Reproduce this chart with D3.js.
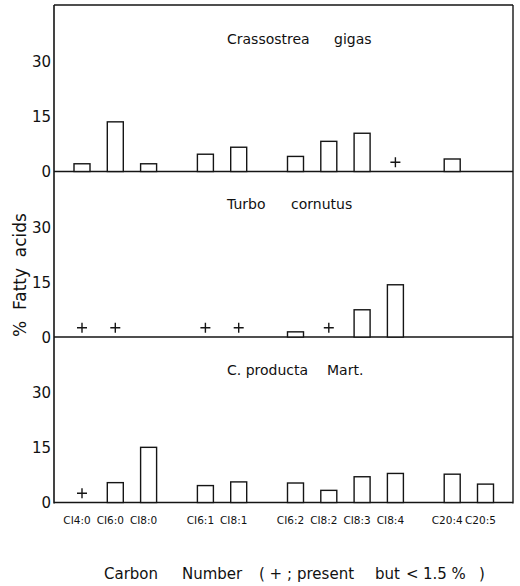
<!DOCTYPE html>
<html><head><meta charset="utf-8">
<script src="https://cdn.jsdelivr.net/npm/d3@7"></script>
<style>
html,body{margin:0;padding:0;background:#fff;}
svg{display:block;}
text{font-family:"DejaVu Sans","Liberation Sans",sans-serif;fill:#111;}
</style></head>
<body>
<svg id="chart" width="520" height="586"></svg>
<script>
// ---- data ----
const categories = ["C14:0","C16:0","C18:0","C16:1","C18:1","C16:2","C18:2","C18:3","C18:4","C20:4","C20:5"];
const categoryLabels = ["CI4:0","CI6:0","CI8:0","CI6:1","CI8:1","CI6:2","CI8:2","CI8:3","CI8:4","C20:4","C20:5"];
const categoryGroup = [0,0,0,1,1,2,2,2,2,3,3];
const species = ["Crassostrea gigas","Turbo cornutus","C. producta Mart."];
const titleParts = [["Crassostrea","gigas"],["Turbo","cornutus"],["C. producta","Mart."]];
// % fatty acids (null = not detected)
const crassostreaValues = [2.1,13.5,2.1,4.7,6.6,4.1,8.2,10.4,null,3.4,null];
const turboValues       = [null,null,null,null,null,1.4,null,7.4,14.2,null,null];
const productaValues    = [null,5.4,15.0,4.6,5.6,5.3,3.3,7.0,7.9,7.7,5.0];
// "+" : present but < 1.5 %
const crassostreaTrace = ["C18:4"];
const turboTrace       = ["C14:0","C16:0","C16:1","C18:1","C18:2"];
const productaTrace    = ["C14:0"];
const yTicks = [0,15,30];
const xTitleParts = ["Carbon","Number","( + ;","present","but","<","1.5 %",")"];
const yTitle = "%  Fatty  acids";

const seriesValues = [crassostreaValues, turboValues, productaValues];
const seriesTrace = [crassostreaTrace, turboTrace, productaTrace];

// ---- layout ----
const svg = d3.select("#chart");
const mLeft = 54, mRight = 513, mTop = 6, panelH = 165.5;
const groupGap = 23.5, barW = 16;
const xp = d3.scalePoint().domain(categories).range([82, 415]);
const x = c => xp(c) + categoryGroup[categories.indexOf(c)] * groupGap;
const titleX = [[227,334],[227,291],[227,327]];
const xTitleX = [104,182,259,297,375,406,423,479];

const ink = "#151515";

// frame
svg.append("line").attr("x1",mLeft).attr("x2",mRight).attr("y1",mTop-1).attr("y2",mTop-1)
  .attr("stroke",ink).attr("stroke-width",1.5);
svg.append("line").attr("x1",mLeft).attr("x2",mLeft).attr("y1",mTop-1).attr("y2",mTop+3*panelH+1)
  .attr("stroke",ink).attr("stroke-width",1.6);
svg.append("line").attr("x1",mRight).attr("x2",mRight).attr("y1",mTop-1).attr("y2",mTop+3*panelH+1)
  .attr("stroke",ink).attr("stroke-width",1.4);

species.forEach((sp, i) => {
  const base = mTop + panelH*(i+1);
  const y = d3.scaleLinear().domain([0,45]).range([base, base - panelH]);
  const g = svg.append("g");

  // y axis labels
  const ax = g.append("g").attr("transform",`translate(${mLeft},0)`)
    .call(d3.axisLeft(y).tickValues(yTicks).tickSize(0).tickPadding(3).tickFormat(d3.format("d")));
  ax.select(".domain").remove();
  ax.selectAll("text").style("font-size","15px").attr("fill",ink).attr("font-family",null)
    .attr("dy","0.36em");

  // baseline
  g.append("line").attr("x1",mLeft).attr("x2",mRight).attr("y1",y(0)).attr("y2",y(0))
    .attr("stroke",ink).attr("stroke-width",1.5);

  // title
  const t = g.append("text").attr("y",y(0)-128).style("font-size","14px");
  titleParts[i].forEach((p,k)=> t.append("tspan").attr("x",titleX[i][k]).text(p));

  // bars
  const data = categories.map((c,k)=>({c, v: seriesValues[i][k]})).filter(d=>d.v!=null);
  g.selectAll("rect.bar").data(data).join("rect").attr("class","bar")
    .attr("x", d=>x(d.c)-barW/2).attr("width",barW)
    .attr("y", d=>y(d.v)).attr("height", d=>y(0)-y(d.v))
    .attr("fill","#fff").attr("stroke",ink).attr("stroke-width",1.4);

  // traces
  g.selectAll("path.trace").data(seriesTrace[i]).join("path").attr("class","trace")
    .attr("d", c=>`M${x(c)-5},${y(2.5)}h10M${x(c)},${y(2.5)-5}v10`)
    .attr("stroke",ink).attr("stroke-width",1.4).attr("fill","none");
});

// x labels
const bottomY = mTop + 3*panelH;
svg.append("g").selectAll("text").data(categories).join("text")
  .attr("x", c=>x(c)-5).attr("y", bottomY+21).attr("text-anchor","middle")
  .style("font-size","10.5px").text((c,k)=>categoryLabels[k]);

// axis titles
const xt = svg.append("text").attr("y",579).style("font-size","15px");
xTitleParts.forEach((p,k)=> xt.append("tspan").attr("x",xTitleX[k]).text(p));
svg.append("text").attr("transform","translate(26,275) rotate(-90)").attr("text-anchor","middle")
  .style("font-size","17px").style("white-space","pre").text(yTitle);
</script>
</body></html>
